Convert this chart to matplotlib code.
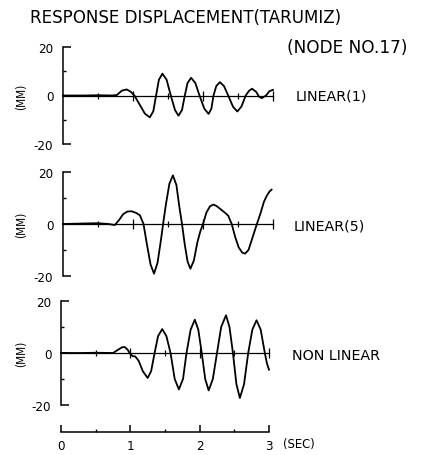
import matplotlib
matplotlib.use("Agg")
import matplotlib.pyplot as plt
from matplotlib.ticker import FixedLocator

t_lin1 = [0, 0.3, 0.5, 0.7, 0.77, 0.84, 0.91, 0.97, 1.02, 1.10, 1.17, 1.24, 1.29, 1.33,
          1.37, 1.42, 1.48, 1.54, 1.60, 1.65, 1.70, 1.74, 1.78, 1.83, 1.89, 1.95, 2.02,
          2.08, 2.12, 2.15, 2.19, 2.24, 2.30, 2.36, 2.43, 2.49, 2.55, 2.61, 2.66, 2.70,
          2.76, 2.80, 2.84, 2.90, 2.95, 3.0]
v_lin1 = [0, 0, 0.1, 0, 0.2, 2.0, 2.5, 1.5, 0, -4, -7.5, -9, -6.5, 0,
          6.5, 9, 6.5, 0, -6, -8.3, -6, 0, 5.2, 7.3, 5.2, 0, -5.5,
          -7.6, -5.4, 0, 3.9, 5.5, 3.9, 0, -4.7, -6.6, -4.5, 0, 2.0, 2.8,
          1.5, -0.5, -1.1, 0, 1.8, 2.3]

t_lin5 = [0, 0.3, 0.5, 0.65, 0.74, 0.80, 0.86, 0.92, 0.98, 1.05, 1.10, 1.15, 1.20, 1.25,
          1.30, 1.35, 1.40, 1.43, 1.47, 1.52, 1.57, 1.62, 1.66, 1.70, 1.74, 1.78, 1.82,
          1.87, 1.92, 1.96, 2.00, 2.05, 2.10, 2.15, 2.20, 2.26, 2.32, 2.36, 2.41, 2.46,
          2.51, 2.56, 2.60, 2.65, 2.71, 2.77, 2.82, 2.87, 2.91, 2.95, 2.98]
v_lin5 = [0, 0.2, 0.3, 0, -0.4, 1.5, 3.8, 4.8, 4.9, 4.2, 3.3, 0, -8, -15.5,
          -19.1, -15, -6, 0, 7.5, 15.5, 18.7, 15, 7, 0, -8, -14.5, -17.2,
          -14, -7, -3, 0, 4.5, 6.8, 7.5, 6.8, 5.5, 4.2, 3.2, 0, -5,
          -9, -11, -11.4, -10, -5, 0, 4, 8.5, 10.8, 12.5, 13.2]

t_nonlin = [0, 0.3, 0.5, 0.75, 0.82, 0.88, 0.92, 0.96, 0.99, 1.03, 1.07, 1.12, 1.18, 1.25,
            1.30, 1.35, 1.40, 1.46, 1.52, 1.58, 1.64, 1.70, 1.76, 1.81, 1.87, 1.93, 1.98,
            2.03, 2.08, 2.13, 2.19, 2.25, 2.31, 2.38, 2.43, 2.48, 2.53, 2.58, 2.64, 2.70,
            2.76, 2.82, 2.88, 2.94, 2.97, 3.0]
v_nonlin = [0, 0, 0.1, 0, 1.2, 2.2, 2.3, 1.3, 0, -1.2, -1.3, -3, -7, -9.6,
            -7, 0, 6.5, 9.2, 6.5, 0, -10, -14, -10, 0, 9, 12.8, 9,
            0, -10, -14.4, -10, 0, 10, 14.5, 10, 0, -12, -17.3, -12, 0,
            9, 12.6, 9, 0, -4, -6.4]

labels = ["LINEAR(1)", "LINEAR(5)", "NON LINEAR"]
series = [(t_lin1, v_lin1), (t_lin5, v_lin5), (t_nonlin, v_nonlin)]
yticks = [-20, 0, 20]
xticks = [0, 1, 2, 3]

COND = dict(family="DejaVu Sans", stretch="condensed")
W, H = 422, 456

fig = plt.figure(figsize=(W / 100, H / 100), dpi=100)

# panel boxes in pixels: (left x, top y, right x, bottom y)
boxes = [(63, 48, 273, 145), (63, 173, 273, 277), (61, 302, 269, 406)]
label_x = [296, 294, 292]
label_y = [97, 227, 356]

for (x0, y0, x1, y1), (t, v), lab, lx, ly in zip(boxes, series, labels, label_x, label_y):
    ax = fig.add_axes([x0 / W, 1 - y1 / H, (x1 - x0) / W, (y1 - y0) / H])
    ax.set_xlim(0, 3)
    ax.set_ylim(-20, 20)
    for s in ("top", "right", "bottom"):
        ax.spines[s].set_visible(False)
    ax.spines["left"].set_linewidth(1.1)
    ax.set_xticks([])
    ax.set_yticks(yticks)
    ax.set_yticklabels([str(y) for y in yticks], fontsize=9.5, **COND)
    ax.yaxis.set_minor_locator(FixedLocator([-10, 10]))
    ax.tick_params(axis="y", which="major", direction="in", length=6, width=1.1, pad=7)
    ax.tick_params(axis="y", which="minor", direction="in", length=2.5, width=1.0)
    # zero reference line with time marks
    ax.plot([0, 3], [0, 0], color="black", lw=0.9, clip_on=False)
    ax.plot([0.5, 1.5, 2.5], [0, 0, 0], "|", color="black", ms=4, mew=0.9, clip_on=False)
    ax.plot([1, 2, 3], [0, 0, 0], "|", color="black", ms=7, mew=0.9, clip_on=False)
    ax.plot(t, v, color="black", lw=1.3, clip_on=False)
    fig.text(lx / W, 1 - ly / H, lab, fontsize=10.3, va="center", family="DejaVu Sans")
    fig.text(22 / W, 1 - (y0 + y1) / 2 / H, "(MM)", fontsize=8.5,
             rotation=90, ha="center", va="center", **COND)

# time axis
tax = fig.add_axes([61 / W, 1 - 433 / H, 208 / W, 0.01])
tax.set_xlim(0, 3)
tax.set_ylim(0, 1)
for s in ("top", "right", "left"):
    tax.spines[s].set_visible(False)
tax.spines["bottom"].set_linewidth(1.1)
tax.set_yticks([])
tax.set_xticks(xticks)
tax.set_xticklabels([str(x) for x in xticks], fontsize=9.5, **COND)
tax.xaxis.set_minor_locator(FixedLocator([0.5, 1.5, 2.5]))
tax.tick_params(axis="x", which="major", direction="in", length=5, width=1.1, pad=5)
tax.tick_params(axis="x", which="minor", direction="in", length=2.5, width=1.0)
fig.text(283 / W, 1 - 445 / H, "(SEC)", fontsize=9.3, va="center", **COND)

fig.text(30 / W, 1 - 18 / H, "RESPONSE DISPLACEMENT(TARUMIZ)", fontsize=13.3,
         va="center", **COND)
fig.text(287 / W, 1 - 48 / H, "(NODE NO.17)", fontsize=12.2, va="center",
         family="DejaVu Sans")

fig.savefig("out.png", dpi=100)
plt.close(fig)
